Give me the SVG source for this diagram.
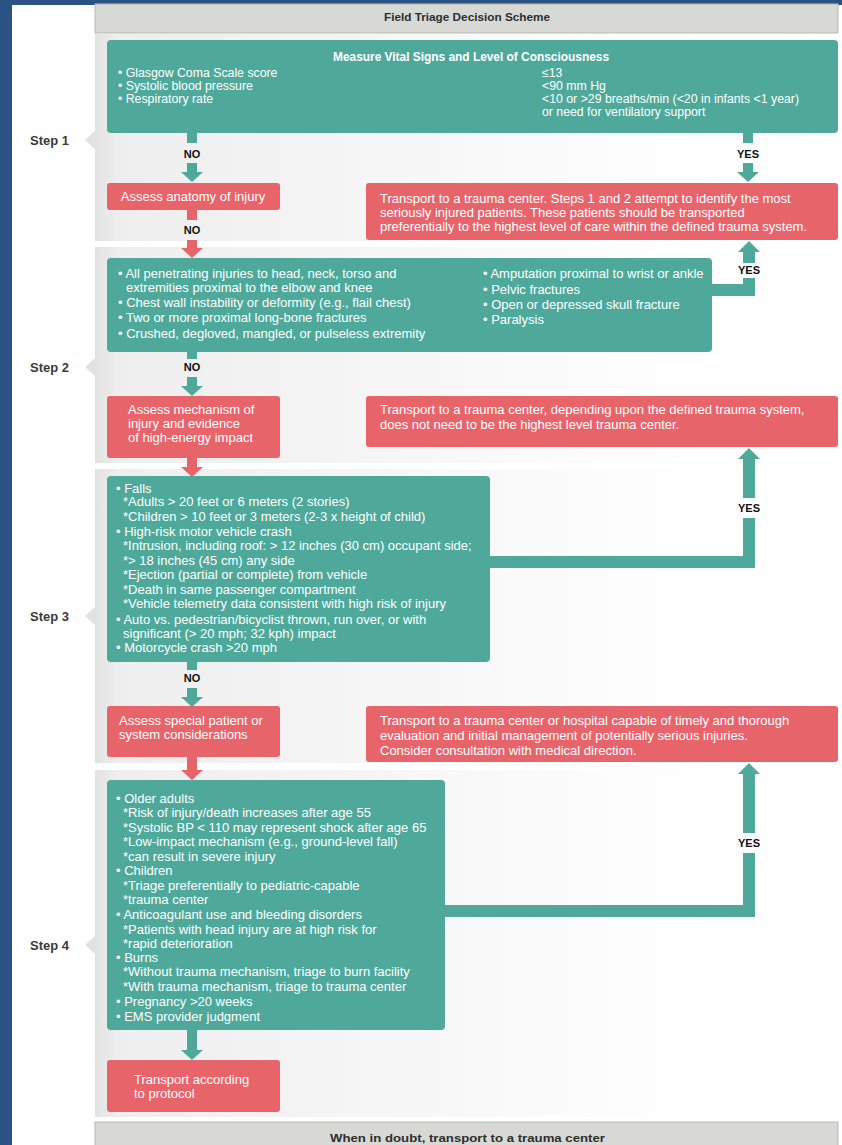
<svg xmlns="http://www.w3.org/2000/svg" width="842" height="1145" viewBox="0 0 842 1145">
  <defs>
    <linearGradient id="panelShade" x1="0" y1="0" x2="1" y2="0">
      <stop offset="0" stop-color="#e2e2e2"/>
      <stop offset="0.03" stop-color="#eeeeee"/>
      <stop offset="0.35" stop-color="#f5f5f5"/>
      <stop offset="0.7" stop-color="#fdfdfd"/>
      <stop offset="1" stop-color="#ffffff"/>
    </linearGradient>
    <style>
      .teal { fill: #4ea99b; }
      .red { fill: #e8646b; }
      .bar { fill: #d8d8d4; stroke: #b9b9b4; stroke-width: 1; }
      .panel { fill: url(#panelShade); }
      .tab { fill: #e2e2e2; }
      .t { font-family: "Liberation Sans", Arial, sans-serif; font-size: 13px; fill: #ffffff; }
      .ts { font-size: 12.3px; }
      .tb { font-family: "Liberation Sans", Arial, sans-serif; font-size: 12px; font-weight: bold; fill: #ffffff; }
      .lbl { font-family: "Liberation Sans", Arial, sans-serif; font-size: 11px; font-weight: bold; fill: #111111; text-anchor: middle; }
      .step { font-family: "Liberation Sans", Arial, sans-serif; font-size: 13px; font-weight: bold; fill: #3a3a3a; }
      .head { font-family: "Liberation Sans", Arial, sans-serif; font-size: 11.5px; font-weight: bold; fill: #2e2e2e; }
    </style>
  </defs>

  <!-- page background -->
  <rect x="0" y="0" width="842" height="1145" fill="#2a5282"/>
  <rect x="12" y="5" width="830" height="1140" fill="#ffffff"/>

  <!-- step panels -->
  <g id="panels">
    <rect class="panel" x="95" y="34" width="743" height="207"/>
    <rect class="panel" x="95" y="247" width="743" height="216"/>
    <rect class="panel" x="95" y="469" width="743" height="294"/>
    <rect class="panel" x="95" y="770" width="743" height="347"/>
    <polygon class="tab" points="95,131 85,140 95,149"/>
    <polygon class="tab" points="95,358 85,367 95,376"/>
    <polygon class="tab" points="95,607 85,616 95,625"/>
    <polygon class="tab" points="95,936 85,945 95,954"/>
  </g>

  <g id="step-labels">
    <text class="step" x="30" y="145">Step 1</text>
    <text class="step" x="30" y="372">Step 2</text>
    <text class="step" x="30" y="621">Step 3</text>
    <text class="step" x="30" y="950">Step 4</text>
  </g>

  <g id="header">
    <rect class="bar" x="95" y="4" width="743" height="29"/>
    <text class="head" x="384" y="21" textLength="166" lengthAdjust="spacingAndGlyphs">Field Triage Decision Scheme</text>
  </g>

  <!-- connectors -->
  <g id="connectors">
    <!-- step 1: NO -->
    <rect class="teal" x="187" y="133" width="10" height="10"/>
    <polygon class="teal" points="187,163 197,163 197,172 203,172 192,182 181,172 187,172"/>
    <!-- step 1: YES -->
    <rect class="teal" x="743" y="133" width="10" height="10"/>
    <polygon class="teal" points="743,163 753,163 753,172 759,172 748,182 737,172 743,172"/>
    <!-- anatomy: NO -->
    <rect class="red" x="187" y="210" width="10" height="10"/>
    <polygon class="red" points="187,240 197,240 197,248 203,248 192,258 181,248 187,248"/>
    <!-- step 2: YES -->
    <rect class="teal" x="712" y="284" width="43" height="12"/>
    <rect class="teal" x="743" y="278" width="12" height="18"/>
    <polygon class="teal" points="743,263 755,263 755,252 760,252 749,241 738,252 743,252"/>
    <!-- step 2: NO -->
    <rect class="teal" x="187" y="352" width="10" height="7"/>
    <polygon class="teal" points="187,377 197,377 197,386 203,386 192,396 181,386 187,386"/>
    <!-- mechanism: down -->
    <polygon class="red" points="187,458 197,458 197,467 203,467 192,477 181,467 187,467"/>
    <!-- step 3: YES -->
    <rect class="teal" x="490" y="556" width="265" height="12"/>
    <rect class="teal" x="743" y="518" width="12" height="50"/>
    <polygon class="teal" points="743,498 755,498 755,459 760,459 749,448 738,459 743,459"/>
    <!-- step 3: NO -->
    <rect class="teal" x="187" y="662" width="10" height="8"/>
    <polygon class="teal" points="187,688 197,688 197,697 203,697 192,707 181,697 187,697"/>
    <!-- special considerations: down -->
    <polygon class="red" points="187,757 197,757 197,770 203,770 192,780 181,770 187,770"/>
    <!-- step 4: YES -->
    <rect class="teal" x="445" y="905" width="310" height="12"/>
    <rect class="teal" x="743" y="853" width="12" height="64"/>
    <polygon class="teal" points="743,833 755,833 755,774 760,774 749,763 738,774 743,774"/>
    <!-- step 4: down -->
    <polygon class="teal" points="187,1030 197,1030 197,1050 203,1050 192,1060 181,1050 187,1050"/>

    <text class="lbl" x="192" y="158">NO</text>
    <text class="lbl" x="748" y="158">YES</text>
    <text class="lbl" x="192" y="234">NO</text>
    <text class="lbl" x="749" y="274">YES</text>
    <text class="lbl" x="192" y="371">NO</text>
    <text class="lbl" x="749" y="512">YES</text>
    <text class="lbl" x="192" y="682">NO</text>
    <text class="lbl" x="749" y="847">YES</text>
  </g>

  <g id="vital-signs">
    <rect class="teal" x="107" y="40" width="731" height="93" rx="4"/>
    <text class="tb" x="333" y="61" textLength="276" lengthAdjust="spacingAndGlyphs">Measure Vital Signs and Level of Consciousness</text>
    <text class="t ts" x="118" y="77">• Glasgow Coma Scale score</text>
    <text class="t ts" x="118" y="90">• Systolic blood pressure</text>
    <text class="t ts" x="118" y="103">• Respiratory rate</text>
    <text class="t ts" x="542" y="77">≤13</text>
    <text class="t ts" x="542" y="90">&lt;90 mm Hg</text>
    <text class="t ts" x="542" y="103">&lt;10 or &gt;29 breaths/min (&lt;20 in infants &lt;1 year)</text>
    <text class="t ts" x="542" y="116">or need for ventilatory support</text>
  </g>

  <g id="assess-anatomy">
    <rect class="red" x="107" y="183" width="173" height="27" rx="3"/>
    <text class="t" x="193" y="201" text-anchor="middle">Assess anatomy of injury</text>
  </g>

  <g id="transport-highest">
    <rect class="red" x="366" y="183" width="472" height="57" rx="3"/>
    <text class="t" x="380" y="203">Transport to a trauma center. Steps 1 and 2 attempt to identify the most</text>
    <text class="t" x="380" y="217">seriously injured patients.  These patients should be transported</text>
    <text class="t" x="380" y="231">preferentially to the highest level of care within the defined trauma system.</text>
  </g>

  <g id="anatomy-criteria">
    <rect class="teal" x="107" y="258" width="605" height="94" rx="4"/>
    <text class="t" x="118" y="278">• All penetrating injuries to head, neck, torso and</text>
    <text class="t" x="126" y="292">extremities proximal to the elbow and knee</text>
    <text class="t" x="118" y="307">• Chest wall instability or deformity (e.g., flail chest)</text>
    <text class="t" x="118" y="322">• Two or more proximal long-bone fractures</text>
    <text class="t" x="118" y="338">• Crushed, degloved, mangled, or pulseless extremity</text>
    <text class="t" x="483" y="278">• Amputation proximal to wrist or ankle</text>
    <text class="t" x="483" y="294">• Pelvic fractures</text>
    <text class="t" x="483" y="309">• Open or depressed skull fracture</text>
    <text class="t" x="483" y="324">• Paralysis</text>
  </g>

  <g id="assess-mechanism">
    <rect class="red" x="107" y="396" width="173" height="62" rx="3"/>
    <text class="t" x="128" y="414">Assess mechanism of</text>
    <text class="t" x="128" y="428">injury and evidence</text>
    <text class="t" x="128" y="442">of high-energy impact</text>
  </g>

  <g id="transport-defined">
    <rect class="red" x="366" y="396" width="472" height="51" rx="3"/>
    <text class="t" x="380" y="414">Transport to a trauma center, depending upon the defined trauma system,</text>
    <text class="t" x="380" y="429">does not need to be the highest level trauma center.</text>
  </g>

  <g id="mechanism-criteria">
    <rect class="teal" x="107" y="476" width="383" height="186" rx="4"/>
    <text class="t" x="116" y="493">• Falls</text>
    <text class="t" x="123" y="506">*Adults &gt; 20 feet or 6 meters (2 stories)</text>
    <text class="t" x="123" y="521">*Children &gt; 10 feet  or 3 meters (2-3 x height of child)</text>
    <text class="t" x="116" y="536">• High-risk motor vehicle crash</text>
    <text class="t" x="123" y="550">*Intrusion, including roof: &gt; 12 inches (30 cm) occupant side;</text>
    <text class="t" x="123" y="565">*&gt; 18 inches (45 cm) any side</text>
    <text class="t" x="123" y="579">*Ejection (partial or complete) from vehicle</text>
    <text class="t" x="123" y="594">*Death in same passenger compartment</text>
    <text class="t" x="123" y="608">*Vehicle telemetry data consistent with high risk of injury</text>
    <text class="t" x="116" y="624">• Auto vs. pedestrian/bicyclist thrown, run over, or with</text>
    <text class="t" x="123" y="638">significant (&gt; 20 mph; 32 kph) impact</text>
    <text class="t" x="116" y="652">• Motorcycle crash &gt;20 mph</text>
  </g>

  <g id="assess-special">
    <rect class="red" x="107" y="706" width="173" height="51" rx="3"/>
    <text class="t" x="119" y="725">Assess special patient or</text>
    <text class="t" x="119" y="739">system considerations</text>
  </g>

  <g id="transport-capable">
    <rect class="red" x="366" y="706" width="472" height="56" rx="3"/>
    <text class="t" x="380" y="725">Transport to a trauma center or hospital capable of timely and thorough</text>
    <text class="t" x="380" y="740">evaluation and initial management of potentially serious injuries.</text>
    <text class="t" x="380" y="755">Consider consultation with medical direction.</text>
  </g>

  <g id="special-criteria">
    <rect class="teal" x="107" y="780" width="338" height="250" rx="4"/>
    <text class="t" x="116" y="803">• Older adults</text>
    <text class="t" x="123" y="817">*Risk of injury/death increases after age 55</text>
    <text class="t" x="123" y="832">*Systolic BP &lt; 110 may represent shock after age 65</text>
    <text class="t" x="123" y="846">*Low-impact mechanism (e.g., ground-level fall)</text>
    <text class="t" x="123" y="861">*can result in severe injury</text>
    <text class="t" x="116" y="875">• Children</text>
    <text class="t" x="123" y="890">*Triage preferentially to pediatric-capable</text>
    <text class="t" x="123" y="904">*trauma center</text>
    <text class="t" x="116" y="919">• Anticoagulant use and bleeding disorders</text>
    <text class="t" x="123" y="934">*Patients with head injury are at high risk for</text>
    <text class="t" x="123" y="948">*rapid deterioration</text>
    <text class="t" x="116" y="962">• Burns</text>
    <text class="t" x="123" y="976">*Without trauma mechanism, triage to burn facility</text>
    <text class="t" x="123" y="991">*With trauma mechanism, triage to trauma center</text>
    <text class="t" x="116" y="1006">• Pregnancy &gt;20 weeks</text>
    <text class="t" x="116" y="1021">• EMS provider judgment</text>
  </g>

  <g id="transport-protocol">
    <rect class="red" x="107" y="1060" width="173" height="52" rx="3"/>
    <text class="t" x="134" y="1084">Transport according</text>
    <text class="t" x="134" y="1098">to protocol</text>
  </g>

  <g id="footer">
    <rect class="bar" x="95" y="1122" width="743" height="24"/>
    <text class="head" x="330" y="1142" font-size="12.5" textLength="275" lengthAdjust="spacingAndGlyphs">When in doubt, transport to a trauma center</text>
  </g>
</svg>
